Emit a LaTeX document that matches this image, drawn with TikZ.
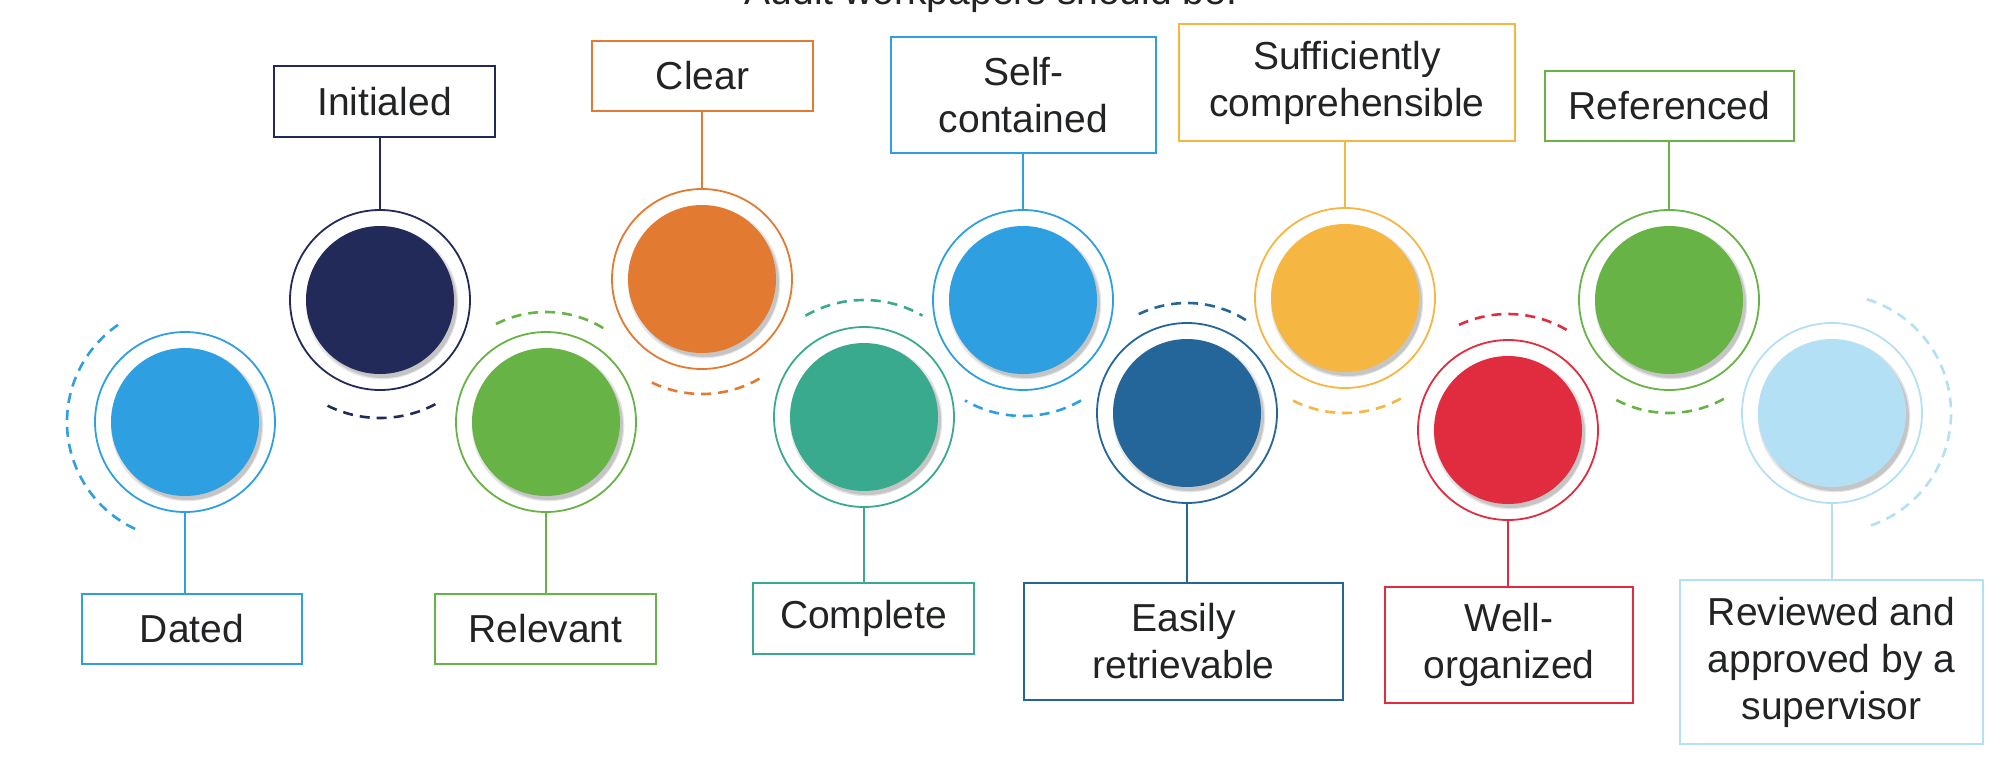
\documentclass[tikz,border=0pt]{standalone}
\usepackage{fontspec}
\setmainfont{Liberation Sans}
\usetikzlibrary{shadows}
\definecolor{ink}{HTML}{222324}
\definecolor{dated}{HTML}{2E9FE0}
\definecolor{initialed}{HTML}{222A5A}
\definecolor{relevant}{HTML}{68B345}
\definecolor{clear}{HTML}{E27A32}
\definecolor{complete}{HTML}{3AAA8F}
\definecolor{selfc}{HTML}{2E9FE0}
\definecolor{easily}{HTML}{246699}
\definecolor{suff}{HTML}{F6B642}
\definecolor{wellorg}{HTML}{E02C3E}
\definecolor{referenced}{HTML}{68B345}
\definecolor{reviewed}{HTML}{B4E0F6}

\begin{document}
\begin{tikzpicture}[x=1pt,y=-1pt,
  ring/.style={circle,draw=#1,line width=1.8pt,minimum size=180pt,inner sep=0pt},
  disc/.style={circle,fill=#1,minimum size=148pt,inner sep=0pt,
    drop shadow={shadow xshift=2pt,shadow yshift=-3pt,shadow scale=1.03,opacity=.10,fill=black},
    drop shadow={shadow xshift=3pt,shadow yshift=-4pt,opacity=.14,fill=black}},
  tag/.style={draw=#1,line width=2pt,align=center,inner sep=0pt,text=ink,
    font=\fontsize{39}{47}\selectfont},
  link/.style={draw=#1,line width=2pt},
  trail/.style={draw=#1,line width=2.6pt,dash pattern=on 10pt off 7pt}
]
  \useasboundingbox (0,0) rectangle (2005,764);
  \clip (0,0) rectangle (2005,764);
  \node[anchor=base,text=ink,font=\fontsize{39}{47}\selectfont] (head) at (991,4) {Audit workpapers should be:};

  % lower row: box underneath, upper row: box on top
  \node[ring=dated] (r1) at (185,422) {};
  \node[disc=dated] (d1) at (r1) {};
  \node[tag=dated,minimum width=220pt,minimum height=70pt] (t1) at (192,629) {Dated};
  \draw[link=dated] (r1.south) -- (r1.south |- t1.north);
  \draw[trail=dated] ([shift={(115:118)}]r1.center) arc[start angle=115,end angle=238,radius=118];

  \node[ring=initialed] (r2) at (380,300) {};
  \node[disc=initialed] (d2) at (r2) {};
  \node[tag=initialed,minimum width=221pt,minimum height=71pt] (t2) at (384.5,101.5) {Initialed};
  \draw[link=initialed] (r2.north) -- (r2.north |- t2.south);
  \draw[trail=initialed] ([shift={(62:118)}]r2.center) arc[start angle=62,end angle=119,radius=118];

  \node[ring=relevant] (r3) at (546,422) {};
  \node[disc=relevant] (d3) at (r3) {};
  \node[tag=relevant,minimum width=221pt,minimum height=70pt] (t3) at (545.5,628.5) {Relevant};
  \draw[link=relevant] (r3.south) -- (r3.south |- t3.north);
  \draw[trail=relevant] ([shift={(-117:110)}]r3.center) arc[start angle=-117,end angle=-57,radius=110];

  \node[ring=clear] (r4) at (702,279) {};
  \node[disc=clear] (d4) at (r4) {};
  \node[tag=clear,minimum width=221pt,minimum height=70pt] (t4) at (702.5,76) {Clear};
  \draw[link=clear] (r4.north) -- (r4.north |- t4.south);
  \draw[trail=clear] ([shift={(60:115)}]r4.center) arc[start angle=60,end angle=118,radius=115];

  \node[ring=complete] (r5) at (864,417) {};
  \node[disc=complete] (d5) at (r5) {};
  \node[tag=complete,minimum width=221pt,minimum height=71pt] (t5) at (863.5,618) {Complete};
  \draw[link=complete] (r5.south) -- (r5.south |- t5.north);
  \draw[trail=complete] ([shift={(-120:117)}]r5.center) arc[start angle=-120,end angle=-60,radius=117];

  \node[ring=selfc] (r6) at (1023,300) {};
  \node[disc=selfc] (d6) at (r6) {};
  \node[tag=selfc,minimum width=265pt,minimum height=116pt] (t6) at (1023.5,95) {Self-\\contained};
  \draw[link=selfc] (r6.north) -- (r6.north |- t6.south);
  \draw[trail=selfc] ([shift={(60:116)}]r6.center) arc[start angle=60,end angle=120,radius=116];

  \node[ring=easily] (r7) at (1187,413) {};
  \node[disc=easily] (d7) at (r7) {};
  \node[tag=easily,minimum width=319pt,minimum height=117pt] (t7) at (1183.5,641.5) {Easily\\retrievable};
  \draw[link=easily] (r7.south) -- (r7.south |- t7.north);
  \draw[trail=easily] ([shift={(-116:110)}]r7.center) arc[start angle=-116,end angle=-56,radius=110];

  \node[ring=suff] (r8) at (1345,298) {};
  \node[disc=suff] (d8) at (r8) {};
  \node[tag=suff,minimum width=336pt,minimum height=117pt] (t8) at (1347,82.5) {Sufficiently\\comprehensible};
  \draw[link=suff] (r8.north) -- (r8.north |- t8.south);
  \draw[trail=suff] ([shift={(61:115)}]r8.center) arc[start angle=61,end angle=118,radius=115];

  \node[ring=wellorg] (r9) at (1508,430) {};
  \node[disc=wellorg] (d9) at (r9) {};
  \node[tag=wellorg,minimum width=248pt,minimum height=116pt] (t9) at (1509,645) {Well-\\organized};
  \draw[link=wellorg] (r9.south) -- (r9.south |- t9.north);
  \draw[trail=wellorg] ([shift={(-115:116)}]r9.center) arc[start angle=-115,end angle=-57,radius=116];

  \node[ring=referenced] (r10) at (1669,300) {};
  \node[disc=referenced] (d10) at (r10) {};
  \node[tag=referenced,minimum width=249pt,minimum height=70pt] (t10) at (1669.5,106) {Referenced};
  \draw[link=referenced] (r10.north) -- (r10.north |- t10.south);
  \draw[trail=referenced] ([shift={(61:113)}]r10.center) arc[start angle=61,end angle=119,radius=113];

  \node[ring=reviewed] (r11) at (1832,413) {};
  \node[disc=reviewed] (d11) at (r11) {};
  \node[tag=reviewed,minimum width=303pt,minimum height=164pt] (t11) at (1831.5,662) {Reviewed and\\approved by a\\supervisor};
  \draw[link=reviewed] (r11.south) -- (r11.south |- t11.north);
  \draw[trail=reviewed] ([shift={(-73:119)}]r11.center) arc[start angle=-73,end angle=71,radius=119];
\end{tikzpicture}
\end{document}
